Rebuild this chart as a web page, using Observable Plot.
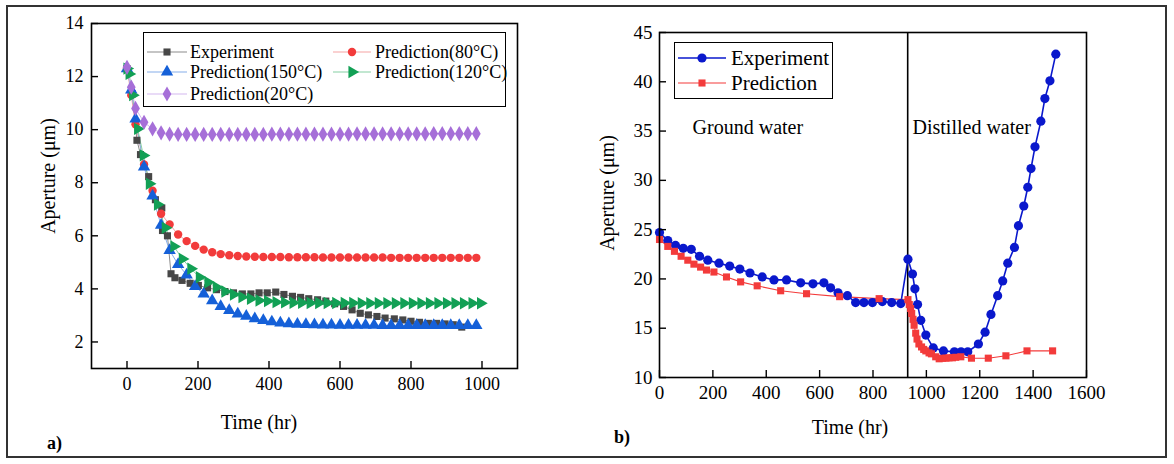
<!DOCTYPE html>
<html><head><meta charset="utf-8">
<script src="https://cdn.jsdelivr.net/npm/d3@7"></script>
<script src="https://cdn.jsdelivr.net/npm/@observablehq/plot@0.6"></script>
<style>
body{margin:0;background:#fff;}
#wrap{position:relative;width:1174px;height:464px;overflow:hidden;font-family:"Liberation Serif","Times New Roman",serif;color:#000;}
#border{position:absolute;left:6px;top:5px;width:1161px;height:453px;border:2px solid #333;box-sizing:border-box;}
.abs{position:absolute;white-space:nowrap;}
.plot{position:absolute;top:0;}
</style></head><body><div id="wrap"><div id="border"></div></div>
<script>
// ---------- Panel a) data ----------
const ticksXA = [0, 200, 400, 600, 800, 1000];
const ticksYA = [2, 4, 6, 8, 10, 12, 14];
const expT = [0,15,28,38,61,80,98,100,114,124,135,155,178,201,227,252,276,300,325,349,372,395,419,442,466,489,512,537,560,585,610,634,657,680,704,727,753,777,800,824,849,872,896,919,943];
const expV = [12.3,11.35,9.6,9.06,8.23,7.36,7.05,6.2,6.0,4.57,4.42,4.32,4.21,4.13,4.04,3.97,3.9,3.85,3.81,3.81,3.85,3.85,3.88,3.79,3.72,3.68,3.63,3.59,3.54,3.44,3.34,3.21,3.08,3.02,2.96,2.9,2.87,2.83,2.78,2.74,2.7,2.7,2.68,2.65,2.56];
const predT = [0,12,24,48,72,96,120,144,168,192,216,240,264,288,312,336,360,384,408,432,456,480,504,528,552,576,600,624,648,672,696,720,744,768,792,816,840,864,888,912,936,960,984];
const pred80 = [12.3,11.3,10.2,8.69,7.7,6.83,6.43,6.05,5.8,5.62,5.48,5.38,5.31,5.27,5.24,5.22,5.21,5.2,5.2,5.2,5.19,5.19,5.19,5.19,5.18,5.18,5.18,5.18,5.18,5.18,5.18,5.18,5.17,5.17,5.17,5.17,5.17,5.17,5.17,5.17,5.17,5.17,5.17];
const pred150 = [12.3,11.5,10.4,8.6,7.5,6.4,5.45,4.92,4.53,4.09,3.81,3.56,3.34,3.19,3.06,2.97,2.88,2.81,2.76,2.72,2.69,2.67,2.66,2.65,2.64,2.64,2.63,2.63,2.63,2.63,2.63,2.62,2.62,2.62,2.62,2.62,2.62,2.62,2.62,2.62,2.62,2.62,2.62];
const pred20 = [12.35,11.6,10.8,10.28,10.03,9.88,9.83,9.82,9.82,9.82,9.82,9.82,9.82,9.82,9.82,9.82,9.82,9.82,9.83,9.83,9.83,9.83,9.83,9.83,9.83,9.83,9.83,9.83,9.84,9.84,9.84,9.84,9.84,9.84,9.84,9.84,9.84,9.85,9.85,9.85,9.85,9.85,9.85];
const pred120T = [0,6,16,30,46,63,86,108,132,156,180,204,228,252,276,300,324,348,372,396,420,444,468,492,516,540,564,588,612,636,660,684,708,732,756,780,804,828,852,876,900,924,948,972,996];
const pred120 = [12.3,12.1,11.3,10.03,9.03,7.96,7.18,6.3,5.6,5.13,4.76,4.44,4.25,4.06,3.9,3.79,3.69,3.63,3.56,3.54,3.5,3.49,3.48,3.48,3.47,3.47,3.47,3.47,3.47,3.47,3.46,3.46,3.46,3.46,3.46,3.46,3.46,3.46,3.46,3.46,3.46,3.46,3.46,3.46,3.46];

// ---------- Panel b) data ----------
const ticksXB = [0, 200, 400, 600, 800, 1000, 1200, 1400, 1600];
const ticksYB = [10, 15, 20, 25, 30, 35, 40, 45];
const bExpT = [0,31,60,89,119,150,181,223,263,301,339,385,429,476,529,575,616,641,669,704,735,766,798,835,870,904,931,948,957,967,979,998,1026,1064,1105,1130,1155,1195,1220,1242,1267,1286,1305,1330,1345,1365,1380,1392,1407,1429,1444,1463,1485];
const bExpV = [24.7,23.9,23.4,23.1,23.0,22.3,21.9,21.6,21.3,21.0,20.6,20.2,19.9,19.9,19.6,19.5,19.6,19.1,18.6,18.3,17.6,17.6,17.6,17.7,17.6,17.5,22.0,20.5,19.0,17.4,15.8,14.3,13.0,12.7,12.6,12.6,12.6,13.4,14.6,16.4,18.3,19.8,21.6,23.2,25.4,27.4,29.3,31.2,33.4,36.0,38.3,40.1,42.8];
const bPredT = [0,31,56,81,106,129,154,176,204,251,304,366,454,551,675,823,931,936,941,945,950,954,960,965,972,982,990,998,1010,1019,1035,1048,1060,1073,1085,1098,1110,1129,1169,1232,1298,1377,1473];
const bPredV = [24.0,23.3,22.8,22.3,21.9,21.5,21.2,20.9,20.7,20.2,19.7,19.3,18.8,18.5,18.2,18.0,17.9,17.4,17.0,16.5,15.9,15.3,14.5,13.9,13.4,13.1,12.85,12.7,12.5,12.4,12.1,11.9,11.95,11.96,12.0,12.0,12.05,12.1,11.96,11.96,12.2,12.7,12.7];
const switchTime = [930];
const regionNotes = [{label: "Ground water", t: 124, v: 35.4}, {label: "Distilled water", t: 948, v: 35.4}];

// ---------- helpers ----------
const sqrt3 = Math.sqrt(3);
const triangleRight = {
  draw(ctx, size) {
    const y = -Math.sqrt(size / (sqrt3 * 3));
    ctx.moveTo(-2 * y, 0);
    ctx.lineTo(y, -sqrt3 * y);
    ctx.lineTo(y, sqrt3 * y);
    ctx.closePath();
  }
};
const zip = (T, V) => T.map((t, i) => ({t, v: V[i]}));
const plain = d => String(d);

const seriesA = [
  {name: "Experiment", data: zip(expT, expV), fill: "#474747", line: "#8c8c8c", symbol: "square", r: 4},
  {name: "Prediction(80°C)", data: zip(predT, pred80), fill: "#f23b3b", line: "#f5a3a3", symbol: "circle", r: 4.2},
  {name: "Prediction(150°C)", data: zip(predT, pred150), fill: "#1560d8", line: "#86aee9", symbol: "triangle", r: 4.6},
  {name: "Prediction(120°C)", data: zip(pred120T, pred120), fill: "#12a055", line: "#86d0a4", symbol: triangleRight, r: 4.6},
  {name: "Prediction(20°C)", data: zip(predT, pred20), fill: "#a66fd8", line: "#d3b7f0", symbol: "diamond", r: 4.6}
];

const wrap = document.getElementById("wrap");

// Panel a
const plotA = Plot.plot({
  width: 580, height: 464,
  marginLeft: 91, marginRight: 63, marginTop: 23, marginBottom: 96,
  style: {fontFamily: "Liberation Serif, serif", fontSize: "18px", color: "#000", background: "transparent", overflow: "visible"},
  x: {domain: [-100, 1100]},
  y: {domain: [1, 14]},
  marks: [
    ...seriesA.map(s => Plot.line(s.data, {x: "t", y: "v", stroke: s.line, strokeWidth: 1})),
    ...seriesA.map(s => Plot.dot(s.data, {x: "t", y: "v", symbol: s.symbol, r: s.r, fill: s.fill, stroke: "none"})),
    Plot.frame({stroke: "#000", strokeWidth: 1.6}),
    Plot.axisX(ticksXA, {tickSize: 0, tickPadding: 9, label: null, fontSize: 18, tickFormat: plain}),
    Plot.axisY(ticksYA, {tickSize: 0, tickPadding: 8, label: null, fontSize: 18, tickFormat: plain}),
    Plot.tickX(ticksXA, {insetTop: 345 - 7, stroke: "#000", strokeWidth: 1.4}),
    Plot.tickY(ticksYA, {insetRight: 426 - 7, stroke: "#000", strokeWidth: 1.4})
  ]
});
plotA.classList.add("plot");
plotA.style.left = "0px";
wrap.appendChild(plotA);

// Panel b
const seriesB = [
  {name: "Experiment", data: zip(bExpT, bExpV), fill: "#0a18cc", line: "#0a18cc", symbol: "circle", r: 4.6, lw: 1.6},
  {name: "Prediction", data: zip(bPredT, bPredV), fill: "#f33b3b", line: "#f33b3b", symbol: "square", r: 4, lw: 1.1}
];
const plotB = Plot.plot({
  width: 594, height: 464,
  marginLeft: 79, marginRight: 88, marginTop: 32, marginBottom: 87,
  style: {fontFamily: "Liberation Serif, serif", fontSize: "19px", color: "#000", background: "transparent", overflow: "visible"},
  x: {domain: [0, 1600]},
  y: {domain: [10, 45]},
  marks: [
    Plot.ruleX(switchTime, {stroke: "#000", strokeWidth: 1.6}),
    ...seriesB.map(s => Plot.line(s.data, {x: "t", y: "v", stroke: s.line, strokeWidth: s.lw})),
    ...seriesB.map(s => Plot.dot(s.data, {x: "t", y: "v", symbol: s.symbol, r: s.r, fill: s.fill, stroke: "none"})),
    Plot.text(regionNotes, {x: "t", y: "v", text: "label", textAnchor: "start", fontSize: 20}),
    Plot.frame({stroke: "#000", strokeWidth: 1.6}),
    Plot.axisX(ticksXB, {tickSize: 0, tickPadding: 8, label: null, fontSize: 19, tickFormat: plain}),
    Plot.axisY(ticksYB, {tickSize: 0, tickPadding: 7, label: null, fontSize: 19, tickFormat: plain}),
    Plot.tickX(ticksXB, {insetTop: 345 - 7, stroke: "#000", strokeWidth: 1.4}),
    Plot.tickY(ticksYB, {insetRight: 427 - 7, stroke: "#000", strokeWidth: 1.4})
  ]
});
plotB.classList.add("plot");
plotB.style.left = "580px";
wrap.appendChild(plotB);

// ---------- HTML text: titles, labels, legends ----------
function addText(txt, x, y, size, opts = {}) {
  const d = document.createElement("div");
  d.className = "abs";
  d.textContent = txt;
  d.style.left = x + "px";
  d.style.top = y + "px";
  d.style.fontSize = size + "px";
  d.style.lineHeight = "1";
  d.style.transform = opts.rotate ? "translate(-50%,-50%) rotate(-90deg)" : (opts.center ? "translate(-50%,-50%)" : "translate(0,-50%)");
  if (opts.bold) d.style.fontWeight = "bold";
  wrap.appendChild(d);
  return d;
}
addText("Aperture (μm)", 48, 176, 20, {rotate: true});
addText("Time (hr)", 259, 422, 20, {center: true});
addText("Aperture (μm)", 607, 193, 20, {rotate: true});
addText("Time (hr)", 850, 427, 20, {center: true});
addText("a)", 47, 443, 18, {bold: true});
addText("b)", 614, 437, 18, {bold: true});

function box(x, y, w, h) {
  const d = document.createElement("div");
  d.className = "abs";
  Object.assign(d.style, {left: x + "px", top: y + "px", width: w + "px", height: h + "px", border: "1.6px solid #000", boxSizing: "border-box", background: "#fff"});
  wrap.appendChild(d);
}
function swatch(s, x0, x1, yc, size, lw) {
  const w = x1 - x0, h = 16;
  const sym = typeof s.symbol === "string" ? {circle: d3.symbolCircle, square: d3.symbolSquare, triangle: d3.symbolTriangle, diamond: d3.symbolDiamond}[s.symbol] : s.symbol;
  const path = d3.symbol(sym, size)();
  const d = document.createElement("div");
  d.className = "abs";
  d.style.left = x0 + "px"; d.style.top = (yc - h / 2) + "px";
  d.innerHTML = `<svg width="${w}" height="${h}" style="display:block"><line x1="0" x2="${w}" y1="${h/2}" y2="${h/2}" stroke="${s.line}" stroke-width="${lw}"/><path d="${path}" transform="translate(${w/2},${h/2})" fill="${s.fill}"/></svg>`;
  wrap.appendChild(d);
}
// Legend a
box(143, 32, 363, 75);
const legA = [
  {s: seriesA[0], col: 0, yc: 52}, {s: seriesA[1], col: 1, yc: 52},
  {s: seriesA[2], col: 0, yc: 72}, {s: seriesA[3], col: 1, yc: 72},
  {s: seriesA[4], col: 0, yc: 94}
];
legA.forEach(e => {
  const x0 = e.col ? 333 : 147, x1 = e.col ? 371 : 187, tx = e.col ? 375 : 190;
  swatch(e.s, x0, x1, e.yc, Math.PI * e.s.r * e.s.r, 1.2);
  addText(e.s.name, tx, e.yc, 18);
});
// Legend b
box(674, 42, 159, 57);
seriesB.forEach((s, i) => {
  const yc = i ? 83 : 58;
  swatch(s, 678, 726, yc, Math.PI * s.r * s.r, s.lw);
  addText(s.name, 731, yc, 21);
});
</script></body></html>
